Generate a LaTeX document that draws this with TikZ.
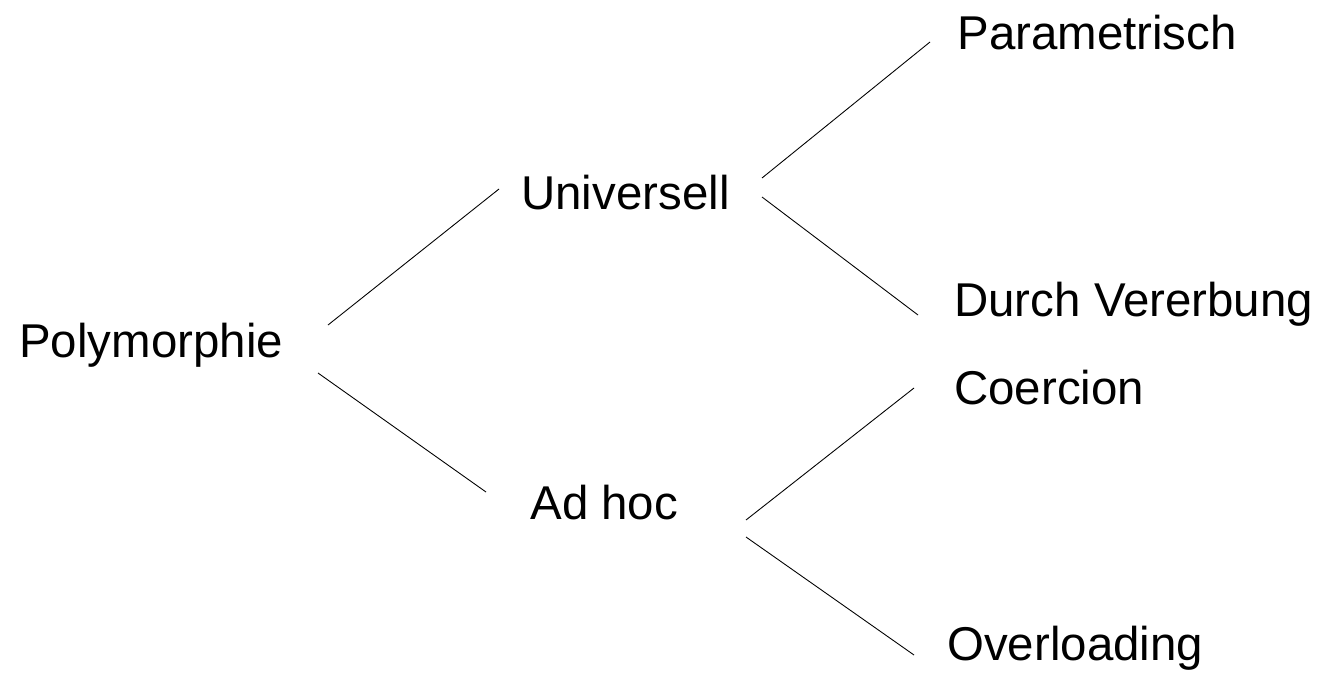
\documentclass[tikz,border=0pt]{standalone}
\usepackage{fontspec}
\setmainfont{Liberation Sans}
\begin{document}
\begin{tikzpicture}[x=0.02cm,y=-0.02cm,
  lbl/.style={anchor=base west,inner sep=0pt,font=\fontsize{27}{32}\selectfont},
  edge/.style={draw=black,line width=0.5pt}]
\useasboundingbox (0,0) rectangle (1321,673);
\node[lbl] (poly)  at (19,357)  {Polymorphie};
\node[lbl] (uni)   at (521,209) {Universell};
\node[lbl] (adhoc) at (530,519) {Ad hoc};
\node[lbl] (para)  at (957,49)  {Parametrisch};
\node[lbl] (durch) at (954,316) {Durch Vererbung};
\node[lbl] (coer)  at (954,404) {Coercion};
\node[lbl] (over)  at (947,660) {Overloading};
\draw[edge] ([shift={(309,-32)}]poly.base west) -- ([shift={(-22,-20)}]uni.base west);
\draw[edge] ([shift={(299,16)}]poly.base west) -- ([shift={(-44,-27)}]adhoc.base west);
\draw[edge] ([shift={(241,-31)}]uni.base west) -- ([shift={(-27,-7)}]para.base west);
\draw[edge] ([shift={(241,-12)}]uni.base west) -- ([shift={(-36,-1)}]durch.base west);
\draw[edge] ([shift={(216,1)}]adhoc.base west) -- ([shift={(-40,-16)}]coer.base west);
\draw[edge] ([shift={(216,18)}]adhoc.base west) -- ([shift={(-33,-5)}]over.base west);
\end{tikzpicture}
\end{document}
